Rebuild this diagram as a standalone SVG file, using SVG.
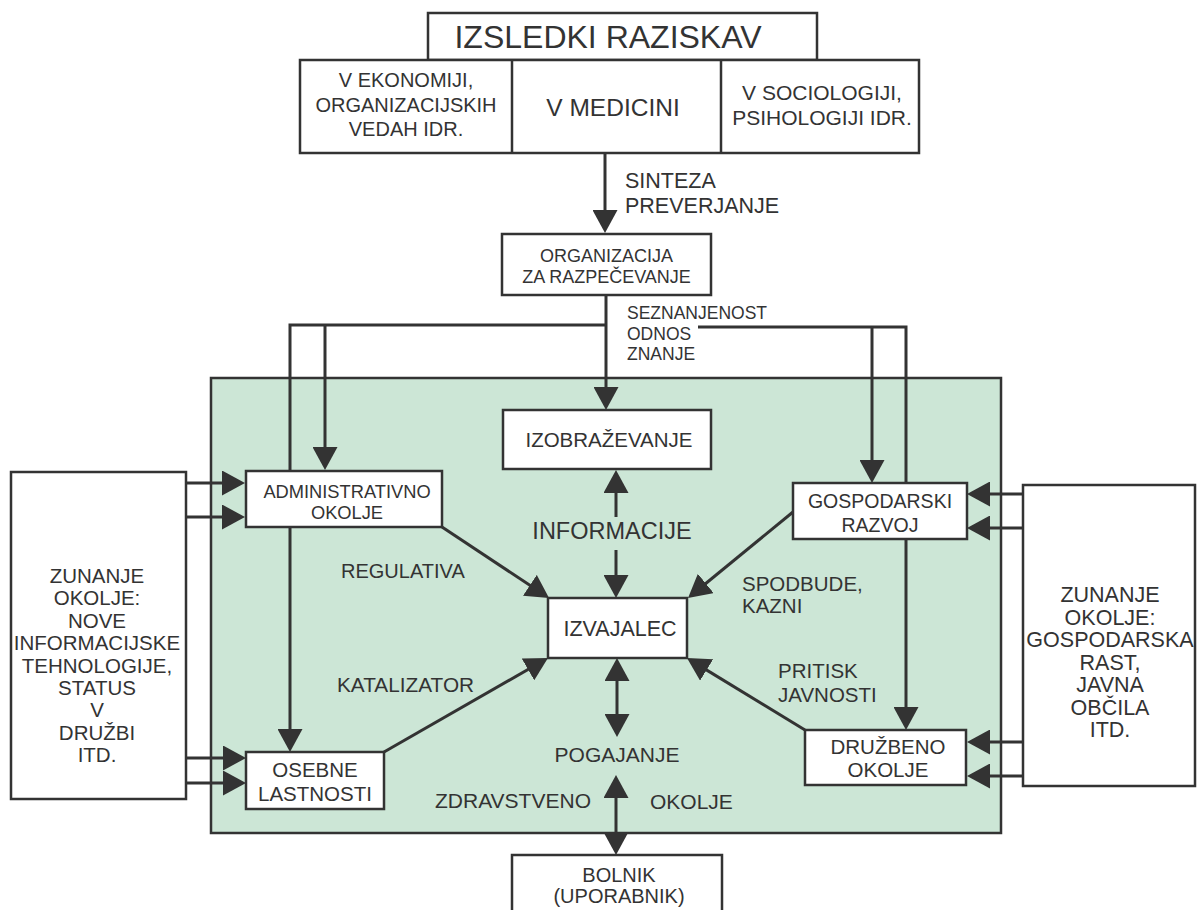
<svg xmlns="http://www.w3.org/2000/svg" width="1197" height="910" viewBox="0 0 1197 910">
  <style>
    text { font-family: "Liberation Sans", Arial, sans-serif; fill: #333; }
    .c { text-anchor: middle; }
    .box { fill: #fff; stroke: #333; stroke-width: 2.5; }
    .ln { fill: none; stroke: #333; stroke-width: 3; }
    .arr { marker-end: url(#ah); }
    .dbl { marker-start: url(#ah); marker-end: url(#ah); }
  </style>
  <defs>
    <marker id="ah" markerUnits="userSpaceOnUse" markerWidth="23" markerHeight="25" refX="19" refY="12.5" orient="auto-start-reverse" viewBox="0 0 23 25">
      <path d="M0,0 L23,12.5 L0,25 Z" fill="#333"/>
    </marker>
  </defs>

  <!-- health-care environment background -->
  <rect id="environment" x="211" y="378" width="790" height="455" fill="#cce6d6" stroke="#333" stroke-width="2.5"/>

  <!-- connectors -->
  <g id="connectors">
    <line class="ln arr" x1="605" y1="153" x2="605" y2="229"/>
    <line class="ln arr" x1="606" y1="295" x2="606" y2="406"/>
    <path class="ln arr" d="M606,325 H290 V748"/>
    <line class="ln arr" x1="325" y1="325" x2="325" y2="466"/>
    <path class="ln arr" d="M698,327 H906 V726"/>
    <line class="ln arr" x1="872" y1="327" x2="872" y2="479"/>
    <!-- INFORMACIJE -->
    <line class="ln arr" x1="616" y1="517" x2="616" y2="474"/>
    <line class="ln arr" x1="616" y1="550" x2="616" y2="594"/>
    <!-- diagonals into IZVAJALEC -->
    <line class="ln arr" x1="442" y1="527" x2="545.7" y2="595.8"/>
    <line class="ln arr" x1="384" y1="752" x2="544.5" y2="660"/>
    <line class="ln arr" x1="793" y1="512" x2="691.1" y2="595.5"/>
    <line class="ln arr" x1="805" y1="730" x2="690.4" y2="660.1"/>
    <!-- POGAJANJE -->
    <line class="ln dbl" x1="617" y1="662" x2="617" y2="733"/>
    <line class="ln dbl" x1="616" y1="779" x2="616" y2="851"/>
    <!-- outer environment feeds -->
    <line class="ln arr" x1="186" y1="483" x2="241" y2="483"/>
    <line class="ln arr" x1="186" y1="517" x2="241" y2="517"/>
    <line class="ln arr" x1="186" y1="758" x2="242" y2="758"/>
    <line class="ln arr" x1="186" y1="783" x2="242" y2="783"/>
    <line class="ln arr" x1="1023" y1="494" x2="971" y2="494"/>
    <line class="ln arr" x1="1023" y1="528" x2="971" y2="528"/>
    <line class="ln arr" x1="1023" y1="742" x2="971" y2="742"/>
    <line class="ln arr" x1="1023" y1="776" x2="971" y2="776"/>
  </g>

  <!-- connector labels -->
  <g id="labels">
    <text x="625" y="188" font-size="21.5">SINTEZA</text>
    <text x="625" y="213" font-size="21.5">PREVERJANJE</text>
    <text x="627" y="319" font-size="17.5">SEZNANJENOST</text>
    <text x="627" y="340" font-size="17.5">ODNOS</text>
    <text x="627" y="360" font-size="17.5">ZNANJE</text>
    <text class="c" x="612" y="539" font-size="23.5">INFORMACIJE</text>
    <text x="341" y="578" font-size="20">REGULATIVA</text>
    <text x="742" y="591" font-size="20.5">SPODBUDE,</text>
    <text x="742" y="613" font-size="20.5">KAZNI</text>
    <text x="337" y="692" font-size="20.8">KATALIZATOR</text>
    <text x="778" y="678" font-size="20.5">PRITISK</text>
    <text x="778" y="702" font-size="20.5">JAVNOSTI</text>
    <text class="c" x="617" y="762" font-size="21">POGAJANJE</text>
    <text x="435" y="808" font-size="21">ZDRAVSTVENO</text>
    <text x="650" y="809" font-size="21">OKOLJE</text>
  </g>

  <!-- research results -->
  <g id="research">
    <rect class="box" x="428" y="13" width="389" height="47"/>
    <text class="c" x="608" y="48" font-size="32">IZSLEDKI RAZISKAV</text>
    <rect class="box" x="300" y="60" width="619" height="93"/>
    <line x1="512" y1="60" x2="512" y2="153" stroke="#333" stroke-width="2.5"/>
    <line x1="721" y1="60" x2="721" y2="153" stroke="#333" stroke-width="2.5"/>
    <text class="c" x="406" y="87" font-size="20">V EKONOMIJI,</text>
    <text class="c" x="406" y="111.5" font-size="20">ORGANIZACIJSKIH</text>
    <text class="c" x="406" y="136" font-size="20">VEDAH IDR.</text>
    <text class="c" x="613" y="116" font-size="24.5">V MEDICINI</text>
    <text class="c" x="822" y="100" font-size="21">V SOCIOLOGIJI,</text>
    <text class="c" x="822" y="124.5" font-size="21">PSIHOLOGIJI IDR.</text>
  </g>

  <g id="organizacija">
    <rect class="box" x="502" y="234" width="209" height="61"/>
    <text class="c" x="606.5" y="262" font-size="18">ORGANIZACIJA</text>
    <text class="c" x="606.5" y="283" font-size="18">ZA RAZPEČEVANJE</text>
  </g>

  <g id="izobrazevanje">
    <rect class="box" x="503" y="410" width="208" height="59"/>
    <text class="c" x="609" y="447" font-size="20.5">IZOBRAŽEVANJE</text>
  </g>

  <g id="administrativno">
    <rect class="box" x="246" y="471" width="196" height="56"/>
    <text class="c" x="347" y="498" font-size="18.3">ADMINISTRATIVNO</text>
    <text class="c" x="347" y="519" font-size="18.3">OKOLJE</text>
  </g>

  <g id="gospodarski">
    <rect class="box" x="793" y="483" width="174" height="56"/>
    <text class="c" x="880" y="508" font-size="19.5">GOSPODARSKI</text>
    <text class="c" x="880" y="532" font-size="19.5">RAZVOJ</text>
  </g>

  <g id="izvajalec">
    <rect class="box" x="548" y="598" width="139" height="60"/>
    <text class="c" x="620" y="636" font-size="21.5">IZVAJALEC</text>
  </g>

  <g id="osebne">
    <rect class="box" x="246" y="752" width="138" height="57"/>
    <text class="c" x="315" y="777" font-size="20.5">OSEBNE</text>
    <text class="c" x="315" y="801" font-size="20.5">LASTNOSTI</text>
  </g>

  <g id="druzbeno">
    <rect class="box" x="805" y="730" width="161" height="55"/>
    <text class="c" x="888" y="754" font-size="20.5">DRUŽBENO</text>
    <text class="c" x="888" y="777" font-size="20.5">OKOLJE</text>
  </g>

  <g id="zunanje-levo">
    <rect class="box" x="11" y="472" width="175" height="327"/>
    <text class="c" x="97" y="583" font-size="20.5">ZUNANJE</text>
    <text class="c" x="97" y="605.4" font-size="20.5">OKOLJE:</text>
    <text class="c" x="97" y="627.8" font-size="20.5">NOVE</text>
    <text class="c" x="97" y="650.2" font-size="20.5">INFORMACIJSKE</text>
    <text class="c" x="97" y="672.6" font-size="20.5">TEHNOLOGIJE,</text>
    <text class="c" x="97" y="695" font-size="20.5">STATUS</text>
    <text class="c" x="97" y="717.4" font-size="20.5">V</text>
    <text class="c" x="97" y="739.8" font-size="20.5">DRUŽBI</text>
    <text class="c" x="97" y="762.2" font-size="20.5">ITD.</text>
  </g>

  <g id="zunanje-desno">
    <rect class="box" x="1023" y="485" width="172" height="301"/>
    <text class="c" x="1110" y="602" font-size="21.5">ZUNANJE</text>
    <text class="c" x="1110" y="624.5" font-size="21.5">OKOLJE:</text>
    <text class="c" x="1110" y="647" font-size="21.5">GOSPODARSKA</text>
    <text class="c" x="1110" y="669.5" font-size="21.5">RAST,</text>
    <text class="c" x="1110" y="692" font-size="21.5">JAVNA</text>
    <text class="c" x="1110" y="714.5" font-size="21.5">OBČILA</text>
    <text class="c" x="1110" y="737" font-size="21.5">ITD.</text>
  </g>

  <g id="bolnik">
    <rect class="box" x="512" y="855" width="210" height="70"/>
    <text class="c" x="619" y="882" font-size="20">BOLNIK</text>
    <text class="c" x="619" y="903" font-size="20">(UPORABNIK)</text>
  </g>
</svg>
